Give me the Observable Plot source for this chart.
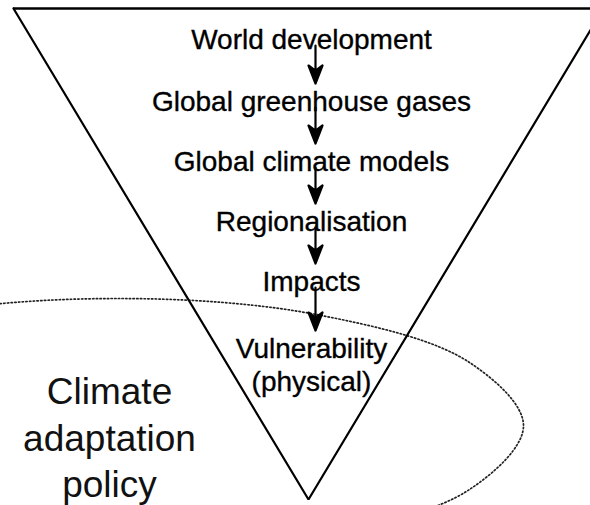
<!DOCTYPE html>
<html>
<head>
<meta charset="utf-8">
<script src="https://cdn.jsdelivr.net/npm/d3@7"></script>
<script src="https://cdn.jsdelivr.net/npm/@observablehq/plot@0.6"></script>
<style>
  html, body { margin: 0; padding: 0; background: #fff; }
  #chart svg { overflow: hidden !important; display: block; }
</style>
</head>
<body>
<div id="chart"></div>
<script>
// ---- content ----
const steps = [
  "World development",
  "Global greenhouse gases",
  "Global climate models",
  "Regionalisation",
  "Impacts",
  "Vulnerability\n(physical)"
];
const policyLabel = ["Climate\nadaptation\npolicy"];

// ---- diagram geometry (pixel space) ----
const stepBaselines = [48, 110, 170, 230, 290, 357];
const funnelSides = [
  {x: 13, y: 8}, {x: 308, y: 499}, {x: 603, y: 8}
];
const funnelTop = [{x1: 13, x2: 603, y: 8}];
const policyOutline = [
  {x: 523, y: 425}, {x: 469, y: 362}, {x: 321, y: 315}, {x: 118, y: 298},
  {x: -85, y: 315}, {x: -233, y: 362}, {x: -287, y: 425}, {x: -233, y: 489},
  {x: -85, y: 535}, {x: 118, y: 552}, {x: 321, y: 535}, {x: 469, y: 489}
];

const W = 590, H = 505;
const stepFont = 28, policyFont = 37;
const stepX = 311, arrowX = 315, policyX = 109;

const stepRows = steps.map((label, i) => ({label, y: stepBaselines[i] - 0.85 * stepFont}));
const arrows = steps.slice(0, -1).map((_, i) => {
  const y1 = stepBaselines[i] - 3;
  const y2 = stepBaselines[i + 1] - 27;
  return {x: arrowX, y: y1, length: y2 - y1};
});
const policyRows = policyLabel.map(label => ({label, y: 405 - 0.92 * policyFont}));

const headW = 7, headH = 18;
const arrowShape = {
  draw(context, l) {
    context.moveTo(0, 0);
    context.lineTo(0, -(l - headH * 0.7));
    context.moveTo(0, -l);
    context.lineTo(headW, -l + headH);
    context.lineTo(0, -l + headH * 0.72);
    context.lineTo(-headW, -l + headH);
    context.closePath();
  }
};

const font = "'Liberation Sans', Arial, Helvetica, sans-serif";

const chart = Plot.plot({
  width: W,
  height: H,
  margin: 0,
  x: {domain: [0, W], range: [0, W], axis: null},
  y: {domain: [0, H], range: [0, H], axis: null},
  length: {type: "identity"},
  style: {background: "#fff", fontFamily: font},
  marks: [
    Plot.line(policyOutline, {
      x: "x", y: "y", curve: "catmull-rom-closed",
      stroke: "#222", strokeWidth: 1.7, strokeDasharray: "1.4 2.3"
    }),
    Plot.line(funnelSides, {x: "x", y: "y", stroke: "#000", strokeWidth: 2.2, strokeLinejoin: "miter"}),
    Plot.ruleY(funnelTop, {x1: "x1", x2: "x2", y: "y", stroke: "#000", strokeWidth: 2.6}),
    Plot.text(stepRows, {
      x: stepX, y: "y", text: "label", fontSize: stepFont, lineAnchor: "top",
      lineHeight: 1.2, textAnchor: "middle", fill: "#000", stroke: "#000", strokeWidth: 0.35,
      fontFamily: font
    }),
    Plot.text(policyRows, {
      x: policyX, y: "y", text: "label", fontSize: policyFont, lineAnchor: "top",
      lineHeight: 1.25, textAnchor: "middle", fill: "#111", fontFamily: font
    }),
    Plot.vector(arrows, {
      x: "x", y: "y", length: "length", rotate: 180, anchor: "start",
      shape: arrowShape, stroke: "#000", fill: "#000", strokeWidth: 2.2
    })
  ]
});

document.getElementById("chart").appendChild(chart);
</script>
</body>
</html>
